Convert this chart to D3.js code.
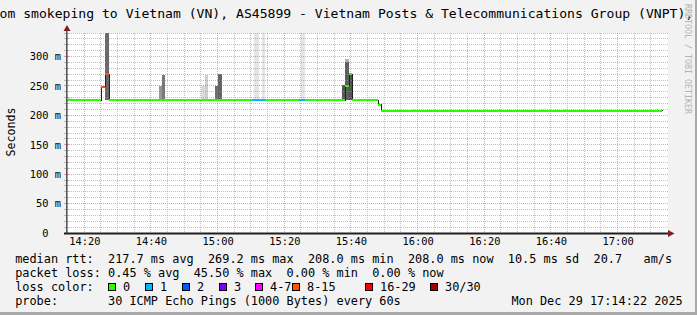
<!DOCTYPE html>
<html>
<head>
<meta charset="utf-8">
<script src="https://cdn.jsdelivr.net/npm/d3@7"></script>
<style>
    body { margin: 0; background: #f2f2f2; }
    svg { display: block; }
    text { white-space: pre; }
</style>
</head>
<body>
<div id="graphic"></div>
<script>
// median rtt steps: start time, value (ms) and lost pings (of 30)
var medianTimes = ["14:14:49", "14:25:01", "14:26:13", "14:27:25", "15:10:19", "15:14:13", "15:24:25",
    "15:26:13", "15:38:13", "15:39:25", "15:40:19", "15:48:07", "15:49:01"];
var medianValues = [225.5, 249, 269.5, 225.5, 225.5, 225.5, 225.5, 225.5, 250, 270, 225.5, 218, 208];
var medianLoss = [0, 13, 13, 0, 1, 0, 1, 0, 0, 0, 0, 0, 0];
var lastSample = "17:13:19";

// smoke (spread of the single pings)
var smokeStart = ["14:26:13", "14:42:25", "14:43:19", "14:55:01", "14:56:13", "14:59:13", "15:00:07",
    "15:10:55", "15:13:19", "15:25:01", "15:37:19", "15:38:13", "15:38:13", "15:39:25",
    "14:15:07", "14:27:43", "14:31:01", "15:01:19", "15:15:07", "15:32:13", "15:42:07",
    "15:58:19", "16:23:49", "16:36:43", "16:43:37", "16:56:13"];
var smokeEnd = ["14:27:25", "14:43:19", "14:44:13", "14:56:13", "14:57:07", "15:00:07", "15:01:19",
    "15:12:25", "15:14:13", "15:26:13", "15:38:13", "15:39:25", "15:39:25", "15:40:19",
    "14:16:19", "14:29:13", "14:34:01", "15:02:31", "15:17:13", "15:35:13", "15:43:19",
    "15:59:13", "16:25:01", "16:38:13", "16:44:49", "16:58:01"];
var smokeLow = [225.5, 225.5, 225.5, 225.5, 225.5, 225.5, 225.5,
    225.5, 225.5, 225.5, 225.5, 225.5, 225.5, 225.5,
    225.5, 225.5, 225.5, 225.5, 225.5, 225.5, 225.5,
    208, 208, 208, 208, 208];
var smokeHigh = [360, 250, 269, 250, 269, 250, 271,
    360, 360, 360, 251, 296, 291, 270,
    229.5, 228.5, 227.5, 228.5, 228.5, 228.5, 228,
    211.5, 211, 211, 211, 211];
var smokeShare = [0.76, 0.5, 0.67, 0.13, 0.19, 0.73, 0.78,
    0.07, 0.07, 0.07, 0.85, 0.36, 0.82, 0.9,
    0.12, 0.1, 0.06, 0.08, 0.08, 0.1, 0.08,
    0.1, 0.08, 0.08, 0.08, 0.08];

var yTicks = [0, 50, 100, 150, 200, 250, 300];
var xTicks = ["14:20", "14:40", "15:00", "15:20", "15:40", "16:00", "16:20", "16:40", "17:00"];

var lossLabels = ["0", "1", "2", "3", "4-7", "8-15", "16-29", "30/30"];
var lossColors = ["#26ff00", "#00b8ff", "#0059ff", "#7e00ff", "#ff00ff", "#ff5500", "#ff0000", "#a10000"];
var lossUpper = [0, 1, 2, 3, 7, 15, 29, 30];

var rttStats = ["217.7 ms avg", "269.2 ms max", "208.0 ms min", "208.0 ms now", "10.5 ms sd", "20.7   am/s"];
var lossStats = ["0.45 % avg", "45.50 % max", "0.00 % min", "0.00 % now"];
var probeText = "30 ICMP Echo Pings (1000 Bytes) every 60s";
var stampText = "Mon Dec 29 17:14:22 2025";
var titleText = "om smokeping to Vietnam (VN), AS45899 - Vietnam Posts & Telecommunications Group (VNPT),";

// Layout
var W = 697, H = 315;
var plot = {left: 67, right: 668, top: 33, bottom: 233};
var parseTime = d3.utcParse("%H:%M:%S");
var parseHM = d3.utcParse("%H:%M");

var xScale = d3.scaleUtc()
    .domain([parseTime("14:14:49"), parseTime("17:14:49")])
    .range([67, 667]);
var yScale = d3.scaleLinear()
    .domain([0, 340])
    .range([plot.bottom, plot.top]);
var smokeGrey = d3.scaleLinear()
    .domain([0, 1])
    .range(["#f2f2f2", "#3c3c3c"]);

function lossColor(n) {
    for (var i = 0; i < lossUpper.length; i++) {
        if (n <= lossUpper[i]) return lossColors[i];
    }
    return lossColors[lossColors.length - 1];
}

var svg = d3.select('#graphic')
    .append('svg')
    .attr('width', W)
    .attr('height', H)
    .attr('font-family', '"DejaVu Sans Mono", monospace');

svg.append('rect').attr('width', W).attr('height', H).attr('fill', '#f2f2f2');
// frame shading
svg.append('rect').attr('x', 0).attr('y', H - 3).attr('width', W).attr('height', 3).attr('fill', '#a9a9a9');
svg.append('rect').attr('x', W - 2).attr('y', 0).attr('width', 2).attr('height', H).attr('fill', '#a9a9a9');

// canvas
svg.append('rect')
    .attr('x', plot.left).attr('y', plot.top)
    .attr('width', plot.right - plot.left).attr('height', plot.bottom - plot.top)
    .attr('fill', '#ffffff');

svg.append('defs').append('clipPath').attr('id', 'clip')
    .append('rect')
    .attr('x', plot.left).attr('y', plot.top)
    .attr('width', plot.right - plot.left).attr('height', plot.bottom - plot.top);

// smoke
var smoke = smokeStart.map(function (s, i) {
    return {start: parseTime(s), end: parseTime(smokeEnd[i]), lo: smokeLow[i], hi: smokeHigh[i], share: smokeShare[i]};
});
svg.append('g')
    .attr('clip-path', 'url(#clip)')
    .attr('shape-rendering', 'crispEdges')
    .selectAll('rect')
    .data(smoke)
    .enter()
    .append('rect')
    .attr('x', function (d) { return xScale(d.start); })
    .attr('width', function (d) { return xScale(d.end) - xScale(d.start); })
    .attr('y', function (d) { return yScale(d.hi); })
    .attr('height', function (d) { return yScale(d.lo) - yScale(d.hi); })
    .attr('fill', function (d) { return smokeGrey(d.share); });

// grid
var grid = svg.append('g').attr('shape-rendering', 'crispEdges');
var minorCol = 'rgba(150,150,150,0.6)', majorCol = 'rgba(222,79,79,0.55)';
d3.range(10, 341, 10).forEach(function (v) {
    var col = v % 50 === 0 ? majorCol : minorCol;
    var yy = Math.floor(yScale(v)) + 0.5;
    grid.append('line')
        .attr('x1', plot.left).attr('x2', plot.right)
        .attr('y1', yy).attr('y2', yy)
        .attr('stroke', col)
        .attr('stroke-dasharray', '1,1');
    grid.append('line')
        .attr('x1', plot.left - 3).attr('x2', plot.left + 2)
        .attr('y1', yy).attr('y2', yy)
        .attr('stroke', col);
});
d3.utcMinute.every(5).range(xScale.domain()[0], xScale.domain()[1]).forEach(function (t) {
    var col = t.getUTCMinutes() % 20 === 0 ? majorCol : minorCol;
    var xx = Math.floor(xScale(t)) + 0.5;
    grid.append('line')
        .attr('x1', xx).attr('x2', xx)
        .attr('y1', plot.top).attr('y2', plot.bottom)
        .attr('stroke', col)
        .attr('stroke-dasharray', '1,1');
});

// median line
var median = medianTimes.map(function (t, i) {
    var next = i < medianTimes.length - 1 ? medianTimes[i + 1] : lastSample;
    return {start: parseTime(t), end: parseTime(next), value: medianValues[i], loss: medianLoss[i]};
});
var stepPoints = median.map(function (d) { return [d.start, d.value]; });
stepPoints.push([median[median.length - 1].end, median[median.length - 1].value]);

var medianG = svg.append('g').attr('clip-path', 'url(#clip)').attr('shape-rendering', 'crispEdges');
medianG.append('path')
    .attr('d', d3.line()
        .x(function (d) { return Math.round(xScale(d[0])) + 0.5; })
        .y(function (d) { return yScale(d[1]); })
        .curve(d3.curveStepAfter)(stepPoints))
    .attr('fill', 'none')
    .attr('stroke', '#202020')
    .attr('stroke-width', 1);
medianG.selectAll('rect.med')
    .data(median)
    .enter()
    .append('rect')
    .attr('class', 'med')
    .attr('x', function (d) { return xScale(d.start); })
    .attr('width', function (d) { return xScale(d.end) - xScale(d.start); })
    .attr('y', function (d) { return yScale(d.value) - 1; })
    .attr('height', 2)
    .attr('fill', function (d) { return lossColor(d.loss); });

// axes
var yAxis = d3.axisLeft(yScale)
    .tickValues(yTicks)
    .tickSize(0)
    .tickPadding(6)
    .tickFormat(function (v) { return v === 0 ? '0\u00a0\u00a0' : v + ' m'; });
var gy = svg.append('g')
    .attr('transform', 'translate(' + plot.left + ',0)')
    .call(yAxis);
gy.select('.domain').remove();
gy.attr('font-family', '"DejaVu Sans Mono", monospace').attr('font-size', '10.4px');
gy.selectAll('text').attr('fill', '#000');

var xAxis = d3.axisBottom(xScale)
    .tickValues(xTicks.map(parseHM))
    .tickSize(0)
    .tickPadding(5)
    .tickFormat(d3.utcFormat('%H:%M'));
var gx = svg.append('g')
    .attr('transform', 'translate(0,' + plot.bottom + ')')
    .call(xAxis);
gx.select('.domain').remove();
gx.attr('font-family', '"DejaVu Sans Mono", monospace').attr('font-size', '10.4px');
gx.selectAll('text').attr('fill', '#000');

svg.append('rect').attr('x', 66).attr('y', 30).attr('width', 1.5).attr('height', plot.bottom - 30 + 1)
    .attr('fill', '#555');
svg.append('rect').attr('x', 64).attr('y', plot.bottom - 0.5).attr('width', plot.right - 64 + 1).attr('height', 2)
    .attr('fill', '#1f1f1f');
// arrows
svg.append('path').attr('d', 'M63.5,31L70.5,31L67,25Z').attr('fill', '#7f1f1f');
svg.append('path').attr('d', 'M668,230L668,237L674.5,233.5Z').attr('fill', '#7f1f1f');

// y label
svg.append('text')
    .attr('transform', 'translate(15,132) rotate(-90)')
    .attr('text-anchor', 'middle')
    .attr('font-size', '11.6px')
    .text('Seconds');

// title
svg.append('text')
    .attr('x', -0.5)
    .attr('y', 18)
    .attr('font-size', '13.1px')
    .text(titleText);

// watermark
svg.append('text')
    .attr('transform', 'translate(684.5,4) rotate(90)')
    .attr('font-size', '8.3px')
    .attr('fill', '#b4b4b4')
    .text('RRDTOOL / TOBI OETIKER');

// legend
var legend = svg.append('g').attr('font-size', '11.86px').attr('fill', '#000');
var rowY = [262.7, 276.7, 290.7, 304.7];
var boxX = [108, 145, 182, 219, 255, 292, 365, 430];

legend.append('text').attr('x', 15.2).attr('y', rowY[0])
    .text('median rtt:  ' + rttStats.join('  '));
legend.append('text').attr('x', 15.2).attr('y', rowY[1])
    .text('packet loss: ' + lossStats.join('  '));
legend.append('text').attr('x', 15.2).attr('y', rowY[2]).text('loss color:');
lossLabels.forEach(function (s, i) {
    legend.append('rect')
        .attr('x', boxX[i] + 0.5).attr('y', 283.5)
        .attr('width', 7).attr('height', 7)
        .attr('fill', lossColors[i])
        .attr('stroke', '#000')
        .attr('shape-rendering', 'crispEdges');
    legend.append('text').attr('x', boxX[i] + 15).attr('y', rowY[2]).text(s);
});
legend.append('text').attr('x', 15.2).attr('y', rowY[3]).text('probe:       ' + probeText);
legend.append('text').attr('x', 511.4).attr('y', rowY[3]).text(stampText);
</script>
</body>
</html>
